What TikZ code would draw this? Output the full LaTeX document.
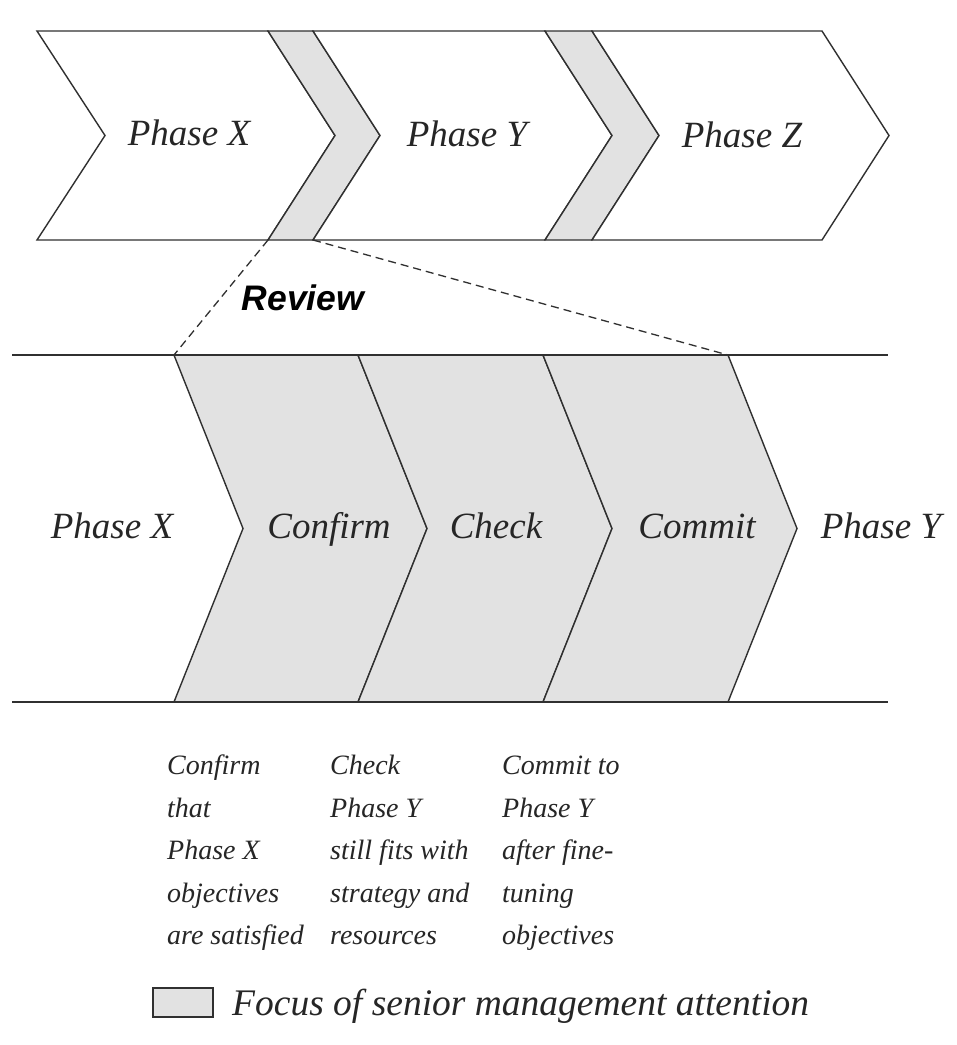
\documentclass[tikz,border=0pt]{standalone}
\usepackage{fontspec}
\setmainfont{Liberation Serif}
\newfontfamily\reviewfont{Liberation Sans}
\definecolor{linegray}{HTML}{303030}
\definecolor{focusgray}{HTML}{E2E2E2}
\definecolor{inkgray}{HTML}{262626}
\begin{document}
\begin{tikzpicture}[x=1pt,y=-1pt,
  outline/.style={draw=linegray, line width=1.4pt, line join=miter},
  focus/.style={outline, fill=focusgray},
  plain/.style={outline, fill=white},
  phase/.style={font=\fontsize{37}{44}\selectfont\itshape, text=inkgray, inner sep=0pt, anchor=base},
  note/.style={font=\fontsize{28}{42.5}\selectfont\itshape, text=inkgray, inner sep=0pt, anchor=north west, align=left},
  reviewline/.style={draw=linegray, line width=1.3pt, dash pattern=on 8pt off 5pt},
  rule/.style={draw=linegray, line width=1.4pt}]
\useasboundingbox (0,0) rectangle (957,1045);
\fill[white] (0,0) rectangle (957,1045);

% ---- top row: the three phases with review bands between them
\draw[plain] (37,31) -- (268,31) -- (335,135.5) -- (268,240) -- (37,240) -- (105,135.5) -- cycle;
\draw[focus] (268,31) -- (313,31) -- (380,135.5) -- (313,240) -- (268,240) -- (335,135.5) -- cycle;
\draw[plain] (313,31) -- (545,31) -- (612,135.5) -- (545,240) -- (313,240) -- (380,135.5) -- cycle;
\draw[focus] (545,31) -- (592,31) -- (659,135.5) -- (592,240) -- (545,240) -- (612,135.5) -- cycle;
\draw[plain] (592,31) -- (822,31) -- (889,135.5) -- (822,240) -- (592,240) -- (659,135.5) -- cycle;

\node[phase] (topX) at (189,145) {Phase X};
\node[phase] (topY) at (467,146) {Phase Y};
\node[phase] (topZ) at (742,147) {Phase Z};

% ---- corners used by the dashed zoom lines
\coordinate (bandL) at (268,240);
\coordinate (bandR) at (313,240);
\coordinate (zoomL) at (174,355);
\coordinate (zoomR) at (728,355);

% ---- expanded review: confirm, check, commit
\draw[focus] (174,355) -- (358,355) -- (427,528.5) -- (358,702) -- (174,702) -- (243,528.5) -- cycle;
\draw[focus] (358,355) -- (543,355) -- (612,528.5) -- (543,702) -- (358,702) -- (427,528.5) -- cycle;
\draw[focus] (543,355) -- (728,355) -- (797,528.5) -- (728,702) -- (543,702) -- (612,528.5) -- cycle;
\draw[rule] (12,355) -- (888,355);
\draw[rule] (12,702) -- (888,702);

\draw[reviewline] (bandL) -- (zoomL);
\draw[reviewline] (bandR) -- (zoomR);

\node[font=\reviewfont\bfseries\itshape\fontsize{35.5}{42}\selectfont, text=black, inner sep=0pt, anchor=base] (review) at (303,310) {Review};

\node[phase] (midX) at (112,538) {Phase X};
\node[phase] (confirm) at (329,538) {Confirm};
\node[phase] (check) at (496,538) {Check};
\node[phase] (commit) at (697,538) {Commit};
\node[phase] (midY) at (881,538) {Phase Y};

% ---- descriptions under each step
\node[note] (confirmText) at (167,745) {\strut Confirm\\that\\Phase X\\objectives\\are satisfied};
\node[note] (checkText) at (330,745) {\strut Check\\Phase Y\\still fits with\\strategy and\\resources};
\node[note] (commitText) at (502,745) {\strut Commit to\\Phase Y\\after fine-\\tuning\\objectives};

% ---- legend
\draw[focus, line width=1.2pt] (153,988) rectangle (213,1017);
\node[font=\fontsize{37.5}{44}\selectfont\itshape, text=inkgray, inner sep=0pt, anchor=base west] (legend) at (232,1015) {Focus of senior management attention};
\end{tikzpicture}
\end{document}
